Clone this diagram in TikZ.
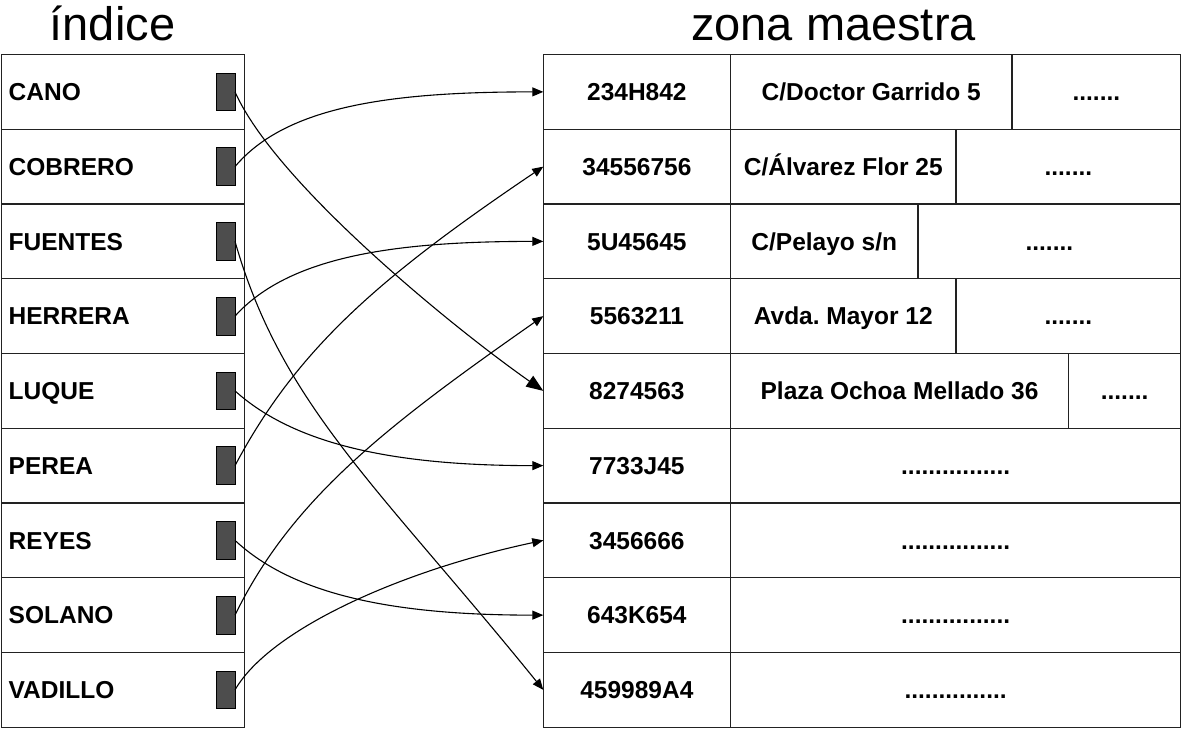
\documentclass[tikz,border=0pt]{standalone}
\usepackage{fontspec}
\setmainfont{Liberation Sans}
\usetikzlibrary{arrows.meta}
\definecolor{ptrgray}{HTML}{4D4D4D}
\definecolor{rule}{HTML}{222222}
\frenchspacing

% one row of the master area: index, key, address, boundary of the address cell
\newcommand\masterrow[4]{%
  \pgfmathsetmacro\cy{-(54.5+(#1-0.5)*74.75)}%
  \pgfmathsetmacro\aw{#4-730.5}%
  \pgfmathsetmacro\ax{(#4+730.5)/2}%
  \pgfmathsetmacro\rw{1180.7-#4}%
  \pgfmathsetmacro\rx{(1180.7+#4)/2}%
  \node[cell, minimum width=187.2pt] (K#1) at (636.9,\cy) {#2};
  \node[cell, minimum width=\aw pt] (A#1) at (\ax,\cy) {#3};
  \node[cell, minimum width=\rw pt] (R#1) at (\rx,\cy) {.......};
}
% a row with one wide cell after the key
\newcommand\masterwide[3]{%
  \pgfmathsetmacro\cy{-(54.5+(#1-0.5)*74.75)}%
  \node[cell, minimum width=187.2pt] (K#1) at (636.9,\cy) {#2};
  \node[cell, minimum width=450.2pt] (A#1) at (955.6,\cy) {#3};
}

\begin{document}
\begin{tikzpicture}[x=1pt,y=1pt,
  labelfont/.style={font=\bfseries\fontsize{24.5}{28}\selectfont, text height=17.5pt, text depth=0pt},
  cell/.style={draw=rule, line width=1.4pt, inner sep=0pt, outer sep=0pt,
    minimum height=74.75pt, labelfont},
  lcell/.style={draw=rule, line width=1.4pt, inner sep=0pt, outer sep=0pt,
    minimum width=242.8pt, minimum height=74.75pt},
  lbl/.style={inner sep=0pt, anchor=west, labelfont},
  ptr/.style={draw=black, line width=0.8pt, fill=ptrgray, inner sep=0pt, outer sep=0pt,
    minimum width=19pt, minimum height=37.7pt},
  title/.style={inner sep=0pt, anchor=base, font=\fontsize{47}{54}\selectfont},
  link/.style={draw=black, line width=1.1pt, -{Triangle[length=11pt,width=9pt]}},
  biglink/.style={draw=black, line width=1.1pt, -{Triangle[length=17pt,width=13pt]}}
]
\useasboundingbox (0,0) rectangle (1182,-729);
\fill[white] (0,0) rectangle (1182,-729);

% headings
\node[title] (hidx) at (112.5,-40) {índice};
\node[title] (hmst) at (833.5,-40) {zona maestra};

% index column
\foreach \n [count=\i] in {CANO,COBRERO,FUENTES,HERRERA,LUQUE,PEREA,REYES,SOLANO,VADILLO} {
  \pgfmathsetmacro\cy{-(54.5+(\i-0.5)*74.75)}
  \node[lcell] (L\i) at (122.9,\cy) {};
  \node[lbl] (T\i) at (8.5,\cy) {\n};
  \node[ptr] (P\i) at (225.5,\cy) {};
}

% master area
\masterrow{1}{234H842}{C/Doctor Garrido 5}{1012}
\masterrow{2}{34556756}{C/Álvarez Flor 25}{956}
\masterrow{3}{5U45645}{C/Pelayo s/n}{918}
\masterrow{4}{5563211}{Avda. Mayor 12}{956}
\masterrow{5}{8274563}{Plaza Ochoa Mellado 36}{1068.5}
\masterwide{6}{7733J45}{................}
\masterwide{7}{3456666}{................}
\masterwide{8}{643K654}{................}
\masterwide{9}{459989A4}{...............}

% pointers from the index to the master records
\draw[biglink] (P1.east) .. controls +(-66:100) and +(145:110) .. (K5.west);
\draw[link] (P2.east) .. controls +(50:80) and +(180:150) .. (K1.west);
\draw[link] (P3.east) .. controls +(-74:171) and +(129:262) .. (K9.west);
\draw[link] (P4.east) .. controls +(48:80) and +(180:150) .. (K3.west);
\draw[link] (P5.east) .. controls +(-42:80) and +(180:150) .. (K6.west);
\draw[link] (P6.east) .. controls +(62:131) and +(214:200) .. (K2.west);
\draw[link] (P7.east) .. controls +(-43:80) and +(180:150) .. (K8.west);
\draw[link] (P8.east) .. controls +(64:130) and +(215:190) .. (K4.west);
\draw[link] (P9.east) .. controls +(60:71) and +(192:143) .. (K7.west);
\end{tikzpicture}
\end{document}
